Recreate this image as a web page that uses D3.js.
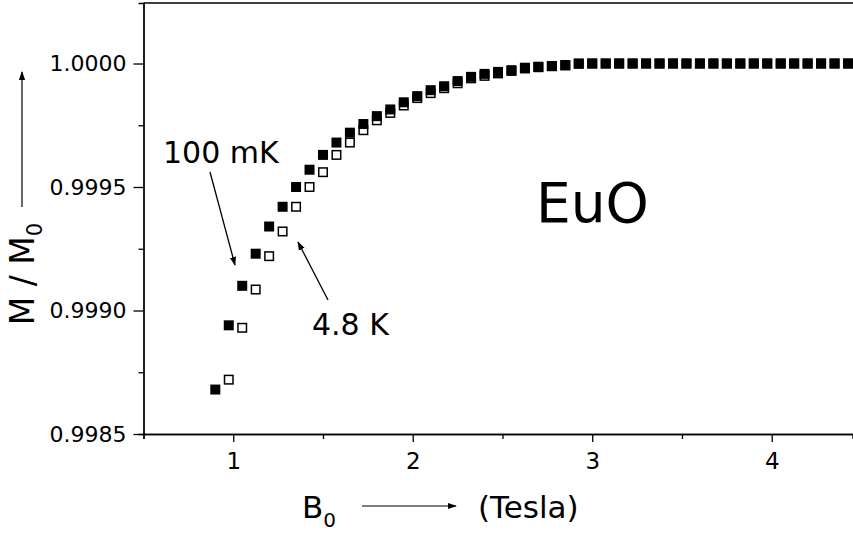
<!DOCTYPE html>
<html>
<head>
<meta charset="utf-8">
<script src="https://cdn.jsdelivr.net/npm/d3@7"></script>
<style>
body { margin: 0; background: #fff; }
text { font-family: "DejaVu Sans", sans-serif; fill: #000; }
.axis path, .axis line { stroke: #000; stroke-width: 1.3px; }
.axis text { font-family: "DejaVu Sans", sans-serif; fill: #000; }
</style>
</head>
<body>
<script>
// applied field B0 (Tesla), one entry per measurement step
var field = [0.900, 0.975, 1.050, 1.125, 1.200, 1.275, 1.350, 1.425, 1.500, 1.575,
	1.650, 1.725, 1.800, 1.875, 1.950, 2.025, 2.100, 2.175, 2.250, 2.325,
	2.400, 2.475, 2.550, 2.625, 2.700, 2.775, 2.850, 2.925, 3.000, 3.075,
	3.150, 3.225, 3.300, 3.375, 3.450, 3.525, 3.600, 3.675, 3.750, 3.825,
	3.900, 3.975, 4.050, 4.125, 4.200, 4.275, 4.350, 4.425];

// M / M0 at 100 mK (filled squares)
var m100mK = [0.99868, 0.99894, 0.99910, 0.99923, 0.99934, 0.99942, 0.99950, 0.99957, 0.99963, 0.99968,
	0.99972, 0.999755, 0.999787, 0.999814, 0.999843, 0.999868, 0.999892, 0.999908, 0.999929, 0.999946,
	0.999958, 0.999966, 0.999973, 0.999983, 0.999987, 0.999989, 0.999992, 0.999999, 1.0, 1.0,
	1.0, 1.0, 1.0, 1.0, 1.0, 1.0, 1.0, 1.0, 1.0, 1.0,
	1.0, 1.0, 1.0, 1.0, 1.0, 1.0, 1.0, 1.0];

// M / M0 at 4.8 K (open squares), first step is below the axis
var m48K = [null, 0.99872, 0.99893, 0.999085, 0.99922, 0.99932, 0.99942, 0.99950, 0.99956, 0.99963,
	0.99968, 0.99973, 0.99977, 0.99980, 0.99983, 0.99986, 0.99988, 0.99990, 0.99992, 0.99994,
	0.99995, 0.99996, 0.99997, 0.99998, 0.999985, 0.99999, 0.999994, 1.0, 1.0, 1.0,
	1.0, 1.0, 1.0, 1.0, 1.0, 1.0, 1.0, 1.0, 1.0, 1.0,
	1.0, 1.0, 1.0, 1.0, 1.0, 1.0, 1.0, 1.0];

var yTicks = [0.9985, 0.9990, 0.9995, 1.0000];
var yMinor = [0.99875, 0.99925, 0.99975];
var xTicks = [1, 2, 3, 4];
var xMinor = [0.5, 1.5, 2.5, 3.5];

var w = 853, h = 533;

var svg = d3.select("body")
	.append("svg")
	.attr("width", w)
	.attr("height", h)
	.style("background-color", "#fff");

// arrow head used by the annotations
svg.append("defs").append("marker")
	.attr("id", "head")
	.attr("viewBox", "0 0 10 10")
	.attr("refX", 9)
	.attr("refY", 5)
	.attr("markerWidth", 9)
	.attr("markerHeight", 9)
	.attr("markerUnits", "userSpaceOnUse")
	.attr("orient", "auto")
	.append("path")
	.attr("d", "M0,1.5 L10,5 L0,8.5 Z")
	.style("fill", "#000");

var x = d3.scaleLinear()
	.domain([0.5, 4.45])
	.range([143.5, 852.5]);

var y = d3.scaleLinear()
	.domain([0.9985, 1.000245])
	.range([434, 3]);

//frame top line (plot is cut off on the right)
svg.append("line")
	.attr("x1", x(0.5)).attr("x2", w)
	.attr("y1", y(1.000245)).attr("y2", y(1.000245))
	.style("stroke", "#000")
	.style("stroke-width", 1.3);

//minor ticks
svg.append("g")
	.attr("class", "axis")
	.attr("transform", "translate(" + x(0.5) + ",0)")
	.call(d3.axisLeft(y).tickValues(yMinor).tickSize(5).tickFormat(""));

svg.append("g")
	.attr("class", "axis")
	.attr("transform", "translate(0," + y(0.9985) + ")")
	.call(d3.axisBottom(x).tickValues(xMinor).tickSize(5).tickFormat(""));

//major axes
var yAxis = svg.append("g")
	.attr("class", "axis")
	.attr("transform", "translate(" + x(0.5) + ",0)")
	.call(d3.axisLeft(y)
		.tickValues(yTicks)
		.tickSize(10)
		.tickSizeOuter(0)
		.tickPadding(7)
		.tickFormat(d3.format(".4f")));
yAxis.selectAll("text").style("font-size", "22px");

var xAxis = svg.append("g")
	.attr("class", "axis")
	.attr("transform", "translate(0," + y(0.9985) + ")")
	.call(d3.axisBottom(x)
		.tickValues(xTicks)
		.tickSize(8)
		.tickSizeOuter(0)
		.tickPadding(11)
		.tickFormat(d3.format("d")));
xAxis.selectAll("text").style("font-size", "23px");

//4.8 K points (open squares) under the 100 mK ones
var s = 10;
var open = field.map(function(b, i){ return {b: b, m: m48K[i]}; })
	.filter(function(d){ return d.m !== null; });

svg.selectAll(".open")
	.data(open)
	.enter()
	.append("rect")
	.attr("class", "open")
	.attr("x", function(d){ return x(d.b) - (s - 1.5) / 2; })
	.attr("y", function(d){ return y(d.m) - (s - 1.5) / 2; })
	.attr("width", s - 1.5)
	.attr("height", s - 1.5)
	.style("fill", "#fff")
	.style("stroke", "#000")
	.style("stroke-width", 1.5);

var filled = field.map(function(b, i){ return {b: b, m: m100mK[i]}; });

svg.selectAll(".filled")
	.data(filled)
	.enter()
	.append("rect")
	.attr("class", "filled")
	.attr("x", function(d){ return x(d.b) - s / 2; })
	.attr("y", function(d){ return y(d.m) - s / 2; })
	.attr("width", s)
	.attr("height", s)
	.style("fill", "#000");

//annotations
svg.append("text")
	.attr("x", 163).attr("y", 163)
	.style("font-size", "30px")
	.text("100 mK");

svg.append("line")
	.attr("x1", 210).attr("y1", 172)
	.attr("x2", 235).attr("y2", 265)
	.style("stroke", "#000").style("stroke-width", 1.3)
	.attr("marker-end", "url(#head)");

svg.append("text")
	.attr("x", 312).attr("y", 335)
	.style("font-size", "30px")
	.text("4.8 K");

svg.append("line")
	.attr("x1", 328).attr("y1", 300)
	.attr("x2", 298).attr("y2", 242)
	.style("stroke", "#000").style("stroke-width", 1.3)
	.attr("marker-end", "url(#head)");

svg.append("text")
	.attr("x", 536).attr("y", 222)
	.style("font-size", "55px")
	.text("EuO");

//y title: M / M0 with arrow
var yTitle = svg.append("text")
	.attr("transform", "translate(34,274) rotate(-90)")
	.attr("text-anchor", "middle")
	.style("font-size", "33px");
yTitle.append("tspan").text("M / M");
yTitle.append("tspan").attr("dy", 8).style("font-size", "21px").text("0");

svg.append("line")
	.attr("x1", 22).attr("y1", 207)
	.attr("x2", 22).attr("y2", 72)
	.style("stroke", "#000").style("stroke-width", 1.2)
	.attr("marker-end", "url(#head)");

//x title: B0 -> (Tesla)
var xTitle = svg.append("text")
	.attr("x", 302).attr("y", 518)
	.style("font-size", "31px");
xTitle.append("tspan").text("B");
xTitle.append("tspan").attr("dy", 9).style("font-size", "20px").text("0");

svg.append("line")
	.attr("x1", 362).attr("y1", 506)
	.attr("x2", 456).attr("y2", 506)
	.style("stroke", "#000").style("stroke-width", 1.2)
	.attr("marker-end", "url(#head)");

svg.append("text")
	.attr("x", 478).attr("y", 518)
	.style("font-size", "31px")
	.text("(Tesla)");
</script>
</body>
</html>
